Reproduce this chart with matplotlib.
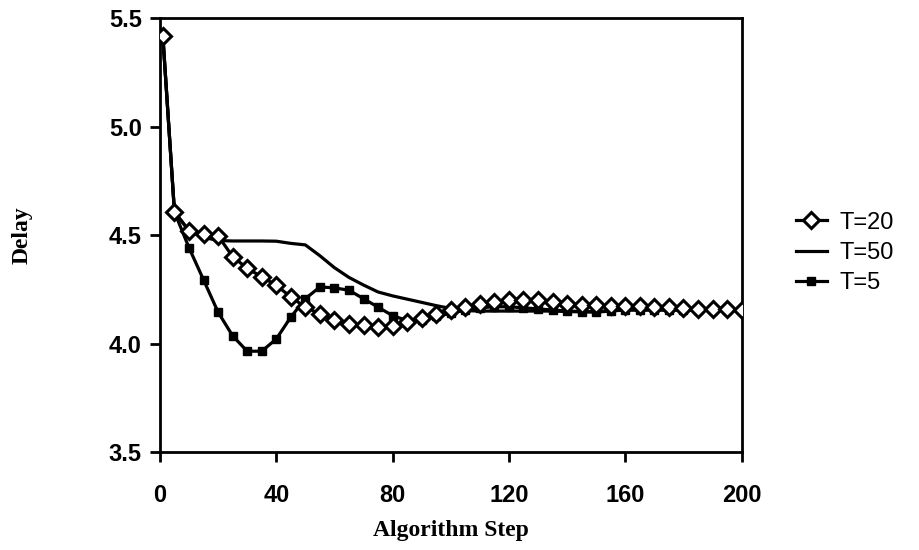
import matplotlib
matplotlib.use("Agg")
import matplotlib.pyplot as plt

# algorithm steps (markers every 5 steps, first point at step 1)
steps = [1] + list(range(5, 201, 5))

# T=20 (open diamonds)
t20 = [5.42, 4.607, 4.521, 4.505, 4.497, 4.401, 4.347, 4.308, 4.269, 4.215,
       4.168, 4.137, 4.110, 4.091, 4.086, 4.076, 4.082, 4.100, 4.118, 4.135,
       4.153, 4.168, 4.182, 4.192, 4.200, 4.200, 4.200, 4.193, 4.184, 4.179,
       4.176, 4.173, 4.173, 4.173, 4.171, 4.169, 4.165, 4.160, 4.160, 4.160,
       4.157]

# T=50 (plain line)
t50 = [5.42, 4.607, 4.520, 4.490, 4.475, 4.473, 4.473, 4.473, 4.472, 4.462,
       4.455, 4.405, 4.350, 4.305, 4.270, 4.238, 4.220, 4.205, 4.190, 4.175,
       4.162, 4.152, 4.150, 4.150, 4.150, 4.150, 4.150, 4.150, 4.148, 4.146,
       4.145, 4.150, 4.155, 4.155, 4.155, 4.155, 4.155, 4.155, 4.155, 4.155,
       4.155]

# T=5 (filled squares)
t5 = [5.42, 4.607, 4.442, 4.294, 4.145, 4.036, 3.965, 3.965, 4.021, 4.122,
      4.207, 4.261, 4.257, 4.246, 4.207, 4.168, 4.129, 4.106, 4.110, 4.125,
      4.140, 4.155, 4.165, 4.170, 4.170, 4.165, 4.160, 4.155, 4.150, 4.148,
      4.148, 4.152, 4.155, 4.155, 4.155, 4.155, 4.155, 4.155, 4.155, 4.155,
      4.155]

xticks = [0, 40, 80, 120, 160, 200]
yticks = [3.5, 4.0, 4.5, 5.0, 5.5]

fig = plt.figure(figsize=(9.19, 5.5), dpi=100)
ax = fig.add_axes([0.174, 0.178, 0.633, 0.789])

ax.plot(steps, t50, color="black", lw=2.3, label="T=50", zorder=2)
ax.plot(steps, t5, color="black", lw=2.3, marker="s", ms=5.5, mfc="black",
        mec="black", label="T=5", zorder=3)
ax.plot(steps, t20, color="black", lw=2.3, marker="D", ms=8, mfc="white",
        mec="black", mew=2.2, label="T=20", zorder=4)

ax.set_xlim(0, 200)
ax.set_ylim(3.5, 5.5)
ax.set_xticks(xticks)
ax.set_yticks(yticks)
ax.set_yticklabels([f"{v:.1f}" for v in yticks])
ax.tick_params(direction="out", length=7, width=2, labelsize=17)
ax.tick_params(axis="x", pad=16)
ax.tick_params(axis="y", pad=6)
for lab in ax.get_xticklabels() + ax.get_yticklabels():
    lab.set_fontfamily("Liberation Sans")
    lab.set_fontweight("bold")
for sp in ax.spines.values():
    sp.set_linewidth(2)

ax.set_xlabel("Algorithm Step", fontfamily="Liberation Serif", fontweight="bold",
              fontsize=17, labelpad=9)
fig.text(0.024, 0.572, "Delay", rotation=90, fontfamily="Liberation Serif",
         fontweight="bold", fontsize=17, ha="center", va="center")

h, l = ax.get_legend_handles_labels()
order = [2, 0, 1]
fig.legend([h[i] for i in order], [l[i] for i in order], loc="center left",
           bbox_to_anchor=(0.866, 0.54), frameon=False, handlelength=1.3,
           prop={"family": "Liberation Sans", "size": 17}, labelspacing=0.35,
           handletextpad=0.55, borderpad=0, borderaxespad=0)

fig.savefig("out.png", dpi=100)
